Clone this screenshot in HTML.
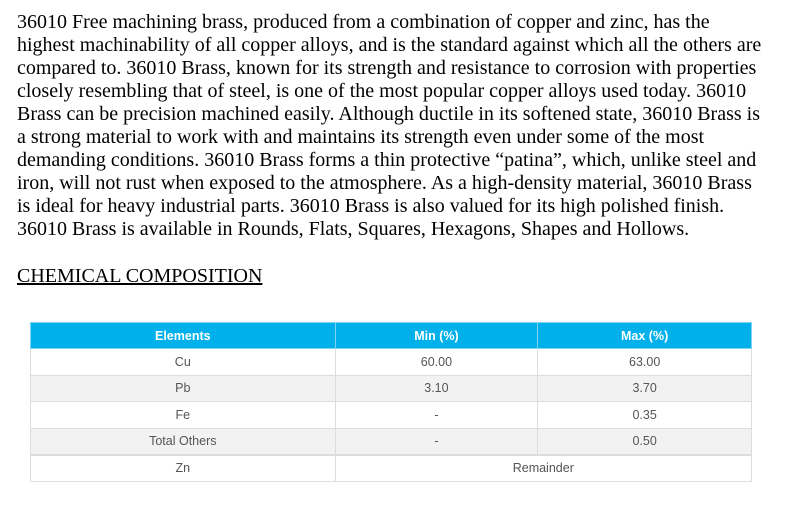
<!DOCTYPE html>
<html><head><meta charset="utf-8">
<style>
html,body{margin:0;padding:0;background:#fff;width:792px;height:507px;overflow:hidden}
.p{position:absolute;left:17px;top:11px;font-family:"Liberation Serif",serif;font-size:20px;line-height:23px;color:#000}
.p div{white-space:nowrap}
.h{position:absolute;left:17px;top:265px;font-family:"Liberation Serif",serif;font-size:20px;line-height:23px;text-decoration:underline;color:#000}
table{position:absolute;left:30px;top:322px;width:722px;border-collapse:collapse;font-family:"Liberation Sans",sans-serif;font-size:12.5px;color:#555}
td,th{text-align:center;border:1px solid #ddd;padding:0;height:26.5px;box-sizing:border-box}
th{background:#00b0ea;color:#fff;font-weight:bold;border-color:#7fd4f3;height:26px}
tr.g td{background:#f2f2f2}
tr.last td{border-top:2px solid #ddd}
</style></head><body>
<div class="p">
<div>36010 Free machining brass, produced from a combination of copper and zinc, has the</div>
<div>highest machinability of all copper alloys, and is the standard against which all the others are</div>
<div>compared to. 36010 Brass, known for its strength and resistance to corrosion with properties</div>
<div>closely resembling that of steel, is one of the most popular copper alloys used today. 36010</div>
<div>Brass can be precision machined easily. Although ductile in its softened state, 36010 Brass is</div>
<div>a strong material to work with and maintains its strength even under some of the most</div>
<div>demanding conditions. 36010 Brass forms a thin protective “patina”, which, unlike steel and</div>
<div>iron, will not rust when exposed to the atmosphere. As a high-density material, 36010 Brass</div>
<div>is ideal for heavy industrial parts. 36010 Brass is also valued for its high polished finish.</div>
<div>36010 Brass is available in Rounds, Flats, Squares, Hexagons, Shapes and Hollows.</div>
</div>
<div class="h">CHEMICAL COMPOSITION</div>
<table>
<colgroup><col style="width:305px"><col style="width:203px"><col style="width:214px"></colgroup>
<tr><th>Elements</th><th>Min (%)</th><th>Max (%)</th></tr>
<tr><td>Cu</td><td>60.00</td><td>63.00</td></tr>
<tr class="g"><td>Pb</td><td>3.10</td><td>3.70</td></tr>
<tr><td>Fe</td><td>-</td><td>0.35</td></tr>
<tr class="g"><td>Total Others</td><td>-</td><td>0.50</td></tr>
<tr class="last"><td>Zn</td><td colspan="2">Remainder</td></tr>
</table>
</body></html>
